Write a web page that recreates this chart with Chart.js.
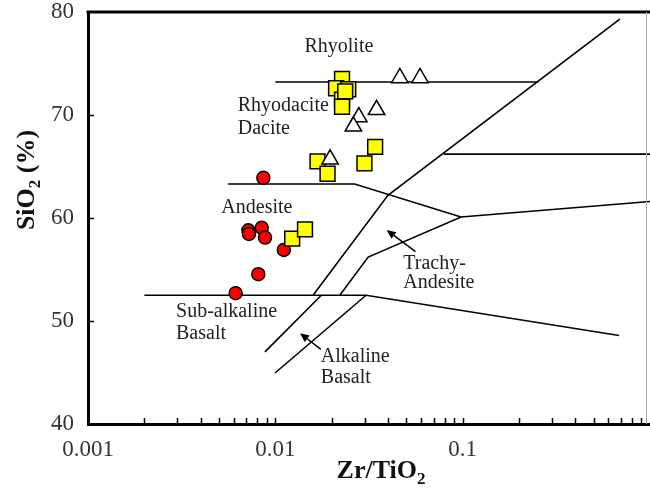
<!DOCTYPE html>
<html>
<head>
<meta charset="utf-8">
<script src="https://cdn.jsdelivr.net/npm/chart.js@4.4.0/dist/chart.umd.min.js"></script>
<style>
  html, body { margin: 0; padding: 0; background: #fff; }
  #wrap { width: 650px; height: 494px; }
</style>
</head>
<body>
<div id="wrap"><canvas id="chart"></canvas></div>
<script>
const SERIF = '"Liberation Serif", "Times New Roman", serif';

// samples: Zr/TiO2 and SiO2 (%)
const circleZr = [0.00863, 0.00718, 0.00723, 0.00846, 0.00881, 0.0111, 0.00811, 0.00614];
const circleSi = [63.9, 58.8, 58.45, 59.05, 58.1, 56.9, 54.55, 52.7];

const squareZr = [0.0227, 0.0211, 0.0245, 0.0227, 0.0227, 0.0236, 0.0168, 0.0190, 0.0341, 0.0299, 0.0123, 0.0144];
const squareSi = [73.5, 72.6, 72.5, 71.5, 70.8, 72.3, 65.5, 64.3, 66.9, 65.3, 58.0, 58.9];

const triangleZr = [0.0462, 0.0592, 0.0347, 0.0279, 0.0261, 0.0196];
const triangleSi = [73.6, 73.6, 70.5, 69.8, 68.9, 65.7];

// field boundaries, [Zr/TiO2, SiO2]
const rhyoliteLine = [[0.01, 73.2], [0.254, 73.2]];
const mainUpper = [[0.69, 79.3], [0.0399, 62.2], [0.0159, 52.5]];
const mainLower = [[0.0176, 52.5], [0.0088, 47.0]];
const alkUpper = [[0.0221, 52.5], [0.0313, 56.2], [0.098, 60.1], [1, 61.6]];
const alkLower = [[0.00996, 44.95], [0.0305, 52.5]];
const andesiteLine = [[0.0056, 63.3], [0.0265, 63.3], [0.098, 60.1]];
const basaltLine = [[0.002, 52.5], [0.0305, 52.5], [0.684, 48.6]];
const comenditeLine = [[0.0793, 66.2], [1, 66.2]];
const boundaries = [rhyoliteLine, mainUpper, mainLower, alkUpper, alkLower, andesiteLine, basaltLine, comenditeLine];

// field names, left edge anchored at [Zr/TiO2, SiO2]
const fieldNames = ['Rhyolite', 'Rhyodacite', 'Dacite', 'Andesite', 'Sub-alkaline', 'Basalt', 'Alkaline', 'Basalt', 'Trachy-', 'Andesite'];
const fieldZr = [0.0143, 0.0063, 0.0063, 0.00515, 0.00295, 0.00295, 0.0175, 0.0175, 0.0482, 0.0482];
const fieldSi = [76.6, 70.9, 68.65, 61.0, 50.9, 48.8, 46.5, 44.45, 55.6, 53.7];

// arrows: from -> to
const arrowFrom = [[0.056, 56.73], [0.0175, 47.25]];
const arrowTo = [[0.0393, 58.83], [0.01355, 48.81]];

const xTicks = [0.001, 0.01, 0.1];
const xTickLabels = ['0.001', '0.01', '0.1'];

const toXY = (xs, ys) => xs.map((x, i) => ({ x: x, y: ys[i] }));

const datasets = [];
boundaries.forEach(b => {
    datasets.push({
        data: b.map(p => ({ x: p[0], y: p[1] })),
        showLine: true,
        borderColor: '#000',
        borderWidth: 1.6,
        pointRadius: 0,
        order: 10
    });
});
datasets.push({
    data: toXY(circleZr, circleSi),
    pointStyle: 'circle',
    pointRadius: 6.5,
    backgroundColor: '#ff0000',
    borderColor: '#000',
    borderWidth: 1.5,
    order: 3
});
datasets.push({
    data: toXY(squareZr, squareSi),
    pointStyle: 'rect',
    pointRadius: 10.5,
    backgroundColor: '#ffff00',
    borderColor: '#000',
    borderWidth: 1.5,
    order: 2
});
datasets.push({
    data: toXY(triangleZr, triangleSi),
    pointStyle: 'triangle',
    pointRadius: 9.5,
    backgroundColor: '#fff',
    borderColor: '#000',
    borderWidth: 1.5,
    order: 1
});

// draws text with a lowered, smaller part for subscripts
function drawParts(ctx, parts, cx, y) {
    let w = 0;
    parts.forEach(p => {
        ctx.font = 'bold ' + p.size + 'px ' + SERIF;
        p.w = ctx.measureText(p.t).width;
        w += p.w;
    });
    let x = cx - w / 2;
    parts.forEach(p => {
        ctx.font = 'bold ' + p.size + 'px ' + SERIF;
        ctx.fillText(p.t, x, y + (p.dy || 0));
        x += p.w;
    });
}

const diagramExtras = {
    id: 'diagramExtras',
    afterDatasetsDraw(chart) {
        const ctx = chart.ctx;
        const a = chart.chartArea;
        const xs = chart.scales.x;
        const ys = chart.scales.y;
        ctx.save();

        // top frame line and faint right frame
        ctx.strokeStyle = '#000';
        ctx.lineWidth = 3;
        ctx.beginPath();
        ctx.moveTo(a.left - 1.5, a.top);
        ctx.lineTo(a.right, a.top);
        ctx.stroke();
        ctx.strokeStyle = '#aaa';
        ctx.lineWidth = 1;
        ctx.beginPath();
        ctx.moveTo(a.right - 3.5, a.top);
        ctx.lineTo(a.right - 3.5, a.bottom);
        ctx.stroke();

        // inward tick marks
        ctx.strokeStyle = '#000';
        ctx.lineWidth = 1.5;
        ctx.beginPath();
        [-3, -2, -1].forEach(d => {
            for (let k = 1; k <= 9; k++) {
                const v = k * Math.pow(10, d);
                if (v <= 0.001) continue;
                const px = Math.round(xs.getPixelForValue(v)) + 0.5;
                ctx.moveTo(px, a.bottom);
                ctx.lineTo(px, a.bottom - 6);
            }
        });
        [50, 60, 70].forEach(v => {
            const py = Math.round(ys.getPixelForValue(v)) + 0.5;
            ctx.moveTo(a.left, py);
            ctx.lineTo(a.left + 6, py);
        });
        ctx.stroke();

        // arrows
        ctx.fillStyle = '#000';
        ctx.lineWidth = 1.5;
        arrowFrom.forEach((f, i) => {
            const x0 = xs.getPixelForValue(f[0]), y0 = ys.getPixelForValue(f[1]);
            const x1 = xs.getPixelForValue(arrowTo[i][0]), y1 = ys.getPixelForValue(arrowTo[i][1]);
            const ang = Math.atan2(y1 - y0, x1 - x0);
            const hl = 9, hw = 4;
            const bx = x1 - hl * Math.cos(ang), by = y1 - hl * Math.sin(ang);
            ctx.beginPath();
            ctx.moveTo(x0, y0);
            ctx.lineTo(bx, by);
            ctx.stroke();
            ctx.beginPath();
            ctx.moveTo(x1, y1);
            ctx.lineTo(bx + hw * Math.sin(ang), by - hw * Math.cos(ang));
            ctx.lineTo(bx - hw * Math.sin(ang), by + hw * Math.cos(ang));
            ctx.closePath();
            ctx.fill();
        });

        // field names
        ctx.fillStyle = '#222';
        ctx.font = '20px ' + SERIF;
        ctx.textAlign = 'left';
        ctx.textBaseline = 'middle';
        fieldNames.forEach((t, i) => {
            ctx.fillText(t, xs.getPixelForValue(fieldZr[i]), ys.getPixelForValue(fieldSi[i]));
        });
        ctx.restore();
    },
    afterDraw(chart) {
        const ctx = chart.ctx;
        const a = chart.chartArea;
        ctx.save();
        ctx.fillStyle = '#111';
        ctx.textAlign = 'left';
        ctx.textBaseline = 'alphabetic';
        // x title
        drawParts(ctx, [{ t: 'Zr/TiO', size: 26 }, { t: '2', size: 17, dy: 6 }], (a.left + a.right) / 2 + 12, 478);
        // y title
        ctx.translate(25, 180);
        ctx.rotate(-Math.PI / 2);
        drawParts(ctx, [{ t: 'SiO', size: 26 }, { t: '2', size: 17, dy: 6 }, { t: ' (%)', size: 26 }], 0, 9);
        ctx.restore();
    }
};

new Chart(document.getElementById('chart'), {
    type: 'scatter',
    data: { datasets: datasets },
    options: {
        responsive: true,
        maintainAspectRatio: false,
        animation: false,
        layout: { autoPadding: false, padding: { top: 12, right: 0, left: 0, bottom: 0 } },
        plugins: { legend: { display: false }, tooltip: { enabled: false } },
        scales: {
            x: {
                type: 'logarithmic',
                min: 0.001,
                max: 1,
                afterBuildTicks: s => { s.ticks = xTicks.map(v => ({ value: v })); },
                afterFit: s => { s.height = 70; s.paddingLeft = 0; s.paddingRight = 0; },
                grid: { display: false, drawTicks: false },
                border: { display: true, color: '#000', width: 3 },
                ticks: {
                    autoSkip: false,
                    maxRotation: 0,
                    padding: 12,
                    color: '#333',
                    font: { family: SERIF, size: 23 },
                    callback: (v, i) => xTickLabels[i]
                }
            },
            y: {
                min: 40,
                max: 80,
                afterFit: s => { s.width = 88; s.paddingTop = 0; s.paddingBottom = 0; },
                grid: { display: false, drawTicks: false },
                border: { display: true, color: '#000', width: 3 },
                ticks: {
                    stepSize: 10,
                    padding: 14,
                    color: '#333',
                    font: { family: SERIF, size: 23, lineHeight: 1 }
                }
            }
        }
    },
    plugins: [diagramExtras]
});
</script>
</body>
</html>
